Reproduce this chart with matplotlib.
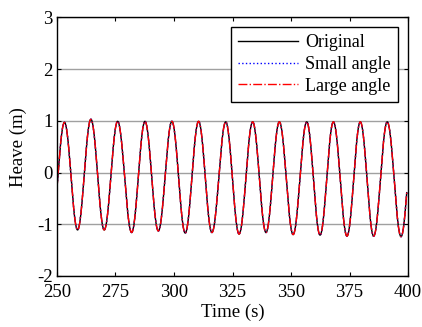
import numpy as np
import matplotlib
matplotlib.use("Agg")
import matplotlib.pyplot as plt

# Extrema (time in s, heave in m)
ext_t = [247.6, 253.2, 258.8, 264.5, 270.2, 275.9, 281.9, 287.6, 293.3, 299.1, 304.8,
         310.5, 316.2, 322.1, 327.8, 333.6, 339.3, 345.0, 350.9, 356.7, 362.4,
         368.1, 373.9, 379.6, 385.3, 391.1, 397.0, 402.7]
ext_orig = [-1.10, 0.97, -1.11, 1.03, -1.11, 0.99, -1.16, 0.99, -1.13, 0.99, -1.17,
            0.99, -1.16, 0.98, -1.19, 0.98, -1.16, 0.98, -1.20, 0.98, -1.21,
            0.98, -1.23, 0.98, -1.23, 0.98, -1.24, 0.98]
ext_small = ext_orig
ext_large = ext_orig
t_end = 399.5

series_names = ["Original", "Small angle", "Large angle"]
xticks = [250, 275, 300, 325, 350, 375, 400]
yticks = [-2, -1, 0, 1, 2, 3]


def curve(tx, vy, tmax, n=40):
    xs, ys = [], []
    for i in range(len(tx) - 1):
        s = np.linspace(0, 1, n, endpoint=False)
        w = (1 - np.cos(np.pi * s)) / 2
        xs.append(tx[i] + (tx[i + 1] - tx[i]) * s)
        ys.append(vy[i] + (vy[i + 1] - vy[i]) * w)
    xs.append([tx[-1]]); ys.append([vy[-1]])
    x = np.concatenate(xs); y = np.concatenate(ys)
    keep = x <= tmax
    return x[keep], y[keep]


plt.rcParams['font.family'] = ['Liberation Serif', 'DejaVu Serif']
plt.rcParams['axes.unicode_minus'] = False
fs = 13.5
fig = plt.figure(figsize=(4.22, 3.27), dpi=100)
ax = fig.add_axes([0.135, 0.156, 0.832, 0.791])

x0, y0 = curve(ext_t, ext_orig, t_end)
x1, y1 = curve(ext_t, ext_small, t_end)
x2, y2 = curve(ext_t, ext_large, t_end)
ax.plot(x0, y0, color='black', lw=1.0, ls='-', label=series_names[0])
ax.plot(x1, y1, color='blue', lw=1.0, ls=':', label=series_names[1])
ax.plot(x2, y2, color='red', lw=1.0, ls='-.', label=series_names[2])

ax.set_xlim(250, 400)
ax.set_ylim(-2, 3)
ax.set_xticks(xticks)
ax.set_yticks(yticks)
ax.tick_params(direction='in', top=True, right=True, labelsize=fs, length=3)
ax.tick_params(axis='x', pad=6)
ax.tick_params(axis='y', pad=3)
ax.yaxis.grid(True, color='#a0a0a0', lw=1.0)
ax.set_axisbelow(True)
for sp in ax.spines.values():
    sp.set_linewidth(1.0)
ax.set_xlabel('Time (s)', fontsize=fs, labelpad=2)
ax.set_ylabel('Heave (m)', fontsize=fs, labelpad=7)

leg = ax.legend(loc='upper right', fontsize=13, frameon=True, fancybox=False,
                edgecolor='black', framealpha=1, handlelength=3.3,
                borderaxespad=0.55, labelspacing=0.25, borderpad=0.4, handletextpad=0.4)
leg.get_frame().set_linewidth(1.0)

fig.savefig('out.png', dpi=100)
